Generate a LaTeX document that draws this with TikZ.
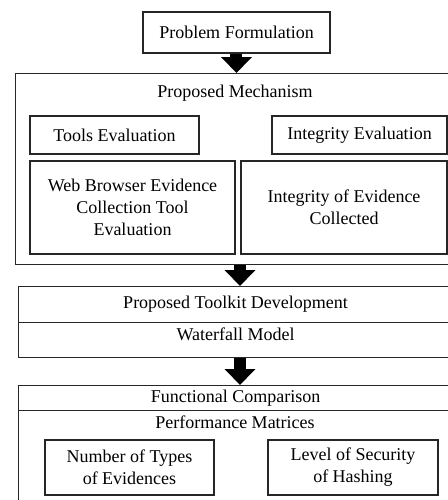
\documentclass[tikz,border=0pt]{standalone}
\usepackage{fontspec}
\setmainfont{Liberation Serif}
\usetikzlibrary{arrows.meta}
\begin{document}
\begin{tikzpicture}[x=0.5pt, y=-0.5pt, font=\fontsize{9}{11}\selectfont,
  box/.style={draw=black!85, line width=0.6pt, inner sep=1pt, align=center},
  frame/.style={box, anchor=north west},
  blockarrow/.style={line width=6pt, -{Triangle[width=15pt, length=8pt]}}]
\useasboundingbox (0,0) rectangle (448,500);
\clip (0,0) rectangle (448,500);

% problem
\node[box, minimum width=93.5pt, minimum height=20.5pt] (pf) at (236.5,32.5) {Problem Formulation};

% proposed mechanism
\node[frame, minimum width=218.5pt, minimum height=95.5pt] (pm) at (15,73) {};
\node (pmt) at (235,93) {Proposed Mechanism};
\node[box, minimum width=84.5pt, minimum height=19pt] (te) at (114.5,135) {Tools Evaluation};
\node[box, minimum width=87.5pt, minimum height=19pt] (ie) at (359.5,135) {Integrity Evaluation};
\node[box, minimum width=102.5pt, minimum height=46.5pt] (wb) at (132.5,207.5)
  {Web Browser Evidence\\Collection Tool\\Evaluation};
\node[box, minimum width=103pt, minimum height=46.5pt] (ic) at (344,207.5)
  {Integrity of Evidence\\Collected};

% toolkit
\node[frame, minimum width=217pt, minimum height=18pt] (tk) at (18,286) {Proposed Toolkit Development};
\node[frame, minimum width=217pt, minimum height=17.5pt, text depth=6pt] (wf) at (18,322) {Waterfall Model};

% comparison
\node[frame, minimum width=217pt, minimum height=12.5pt, inner sep=0pt] (fc) at (18,385) {Functional Comparison};
\node[frame, minimum width=217pt, minimum height=47.5pt] (pmx) at (18,410) {};
\node (pmxt) at (235,422) {Performance Matrices};
\node[box, minimum width=84.5pt, minimum height=27.5pt] (nt) at (129.5,467.5) {Number of Types\\of Evidences};
\node[box, minimum width=85pt, minimum height=27.5pt] (ls) at (353,467.5) {Level of Security\\of Hashing};

% arrows
\draw[blockarrow] (pf.south) -- (pf.south |- pm.north);
\draw[blockarrow] (pm.south -| 240,0) -- (tk.north -| 240,0);
\draw[blockarrow] (wf.south -| 240,0) -- (fc.north -| 240,0);
\end{tikzpicture}
\end{document}
